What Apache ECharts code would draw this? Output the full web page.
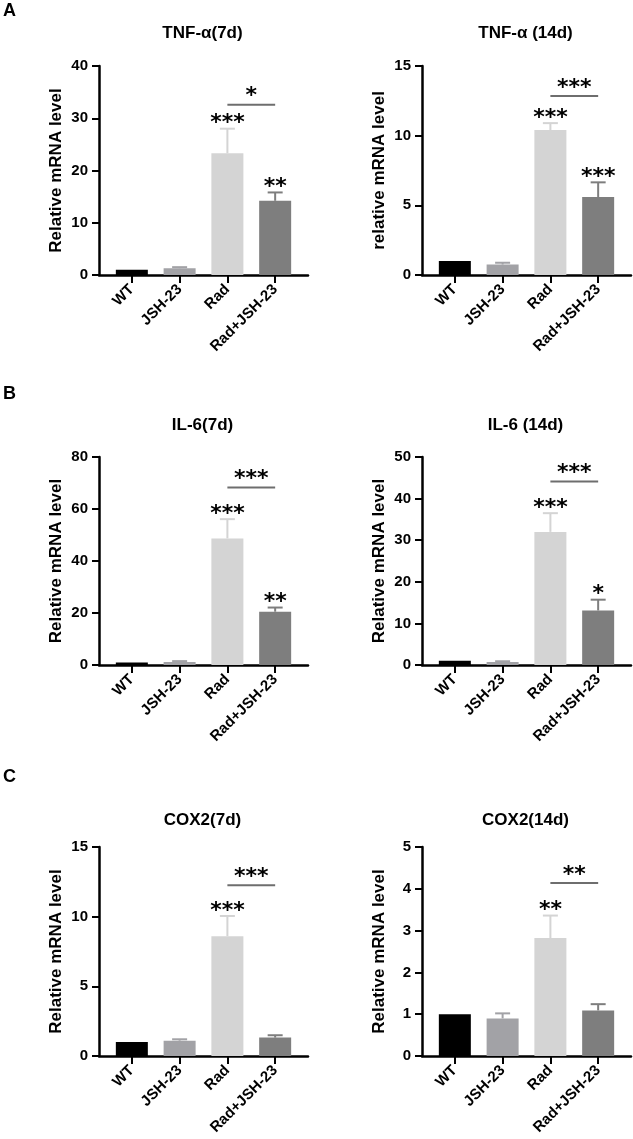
<!DOCTYPE html>
<html>
<head>
<meta charset="utf-8">
<script src="https://cdn.jsdelivr.net/npm/echarts@6.0.0/dist/echarts.min.js"></script>
<style>
html,body{margin:0;padding:0;background:#fff;}
#chart{width:633px;height:1139px;}
</style>
</head>
<body>
<div id="chart"></div>
<script>
// ---------- data ----------
const categories = ['WT', 'JSH-23', 'Rad', 'Rad+JSH-23'];
const panelTitles = ['TNF-α(7d)', 'TNF-α (14d)', 'IL-6(7d)', 'IL-6 (14d)', 'COX2(7d)', 'COX2(14d)'];
const yAxisNames = ['Relative mRNA level', 'relative mRNA level', 'Relative mRNA level', 'Relative mRNA level', 'Relative mRNA level', 'Relative mRNA level'];
const yMax = [40, 15, 80, 50, 15, 5];
const yStep = [10, 5, 20, 10, 5, 1];
const panelLetters = ['A', 'B', 'C'];

const tnf7Mean = [1.0, 1.3, 23.3, 14.2];
const tnf7Sd = [0, 0.2, 4.7, 1.6];
const tnf7Stars = ['', '', '***', '**'];

const tnf14Mean = [1.0, 0.75, 10.4, 5.6];
const tnf14Sd = [0, 0.13, 0.5, 1.05];
const tnf14Stars = ['', '', '***', '***'];

const il7Mean = [1.0, 1.2, 48.7, 20.5];
const il7Sd = [0, 0.3, 7.4, 1.6];
const il7Stars = ['', '', '***', '**'];

const il14Mean = [1.0, 0.7, 32.0, 13.1];
const il14Sd = [0, 0.2, 4.5, 2.6];
const il14Stars = ['', '', '***', '*'];

const cox7Mean = [1.0, 1.1, 8.6, 1.32];
const cox7Sd = [0, 0.1, 1.45, 0.17];
const cox7Stars = ['', '', '***', ''];

const cox14Mean = [1.0, 0.9, 2.82, 1.09];
const cox14Sd = [0, 0.12, 0.54, 0.15];
const cox14Stars = ['', '', '**', ''];

// comparison Rad vs Rad+JSH-23
const bracketLevel = [32.6, 12.85, 68.3, 44.1, 12.26, 4.14];
const bracketStars = ['*', '***', '***', '***', '***', '**'];

// ---------- styling / layout ----------
const means = [tnf7Mean, tnf14Mean, il7Mean, il14Mean, cox7Mean, cox14Mean];
const sds = [tnf7Sd, tnf14Sd, il7Sd, il14Sd, cox7Sd, cox14Sd];
const stars = [tnf7Stars, tnf14Stars, il7Stars, il14Stars, cox7Stars, cox14Stars];

const barColors = ['#000000', '#a2a2a6', '#d4d4d4', '#7e7e7e'];
const FONT = '"Liberation Sans", Arial, sans-serif';
const STAR_FONT = 'bold 22px "DejaVu Sans"';
const colLeft = [99, 422];
const rowTop = [66, 457, 847];
const rowH = [209, 208, 209];
const gridW = 209;

const grids = [], xAxes = [], yAxes = [], series = [], graphics = [];

for (let k = 0; k < 6; k++) {
  const col = k % 2, row = Math.floor(k / 2);
  grids.push({ left: colLeft[col], top: rowTop[row], width: gridW, height: rowH[row] });
  xAxes.push({
    type: 'value', gridIndex: k, min: -0.6875, max: 3.6875,
    splitLine: { show: false },
    axisLine: { show: true, onZero: false, lineStyle: { color: '#000', width: 2.5 } },
    axisTick: { show: true, customValues: [0, 1, 2, 3], length: 8, lineStyle: { color: '#000', width: 2 } },
    axisLabel: {
      customValues: [0, 1, 2, 3], rotate: 45, margin: 12,
      formatter: v => categories[Math.round(v)],
      fontFamily: FONT, fontWeight: 'bold', fontSize: 15, color: '#000'
    }
  });
  yAxes.push({
    type: 'value', gridIndex: k, min: 0, max: yMax[k], interval: yStep[k],
    splitLine: { show: false },
    axisLine: { show: true, onZero: false, lineStyle: { color: '#000', width: 2.5 } },
    axisTick: { show: true, length: 7, lineStyle: { color: '#000', width: 2 } },
    axisLabel: { fontFamily: FONT, fontWeight: 'bold', fontSize: 15, color: '#000', margin: 11 },
    name: yAxisNames[k], nameLocation: 'middle', nameGap: 34,
    nameTextStyle: { fontFamily: FONT, fontWeight: 'bold', fontSize: 17, color: '#000' }
  });

  const m = means[k], s = sds[k], st = stars[k];
  series.push({
    type: 'bar', xAxisIndex: k, yAxisIndex: k, barWidth: 32,
    data: m.map((v, i) => ({ value: [i, v], itemStyle: { color: barColors[i] } })),
    silent: true, animation: false
  });
  // error bars + per-group stars
  series.push({
    type: 'custom', xAxisIndex: k, yAxisIndex: k, clip: false, silent: true, animation: false,
    data: m.map((v, i) => [i, v, s[i]]),
    renderItem: (params, api) => {
      const i = api.value(0), mv = api.value(1), sv = api.value(2);
      const children = [];
      const base = api.coord([i, mv]);
      const top = api.coord([i, mv + sv]);
      if (sv > 0) {
        const c = barColors[i];
        children.push({ type: 'line', shape: { x1: base[0], y1: base[1], x2: top[0], y2: top[1] }, style: { stroke: c, lineWidth: 2 } });
        children.push({ type: 'line', shape: { x1: top[0] - 7.5, y1: top[1], x2: top[0] + 7.5, y2: top[1] }, style: { stroke: c, lineWidth: 2 } });
      }
      const txt = st[params.dataIndex];
      if (txt) {
        children.push({ type: 'text', x: top[0], y: top[1] - 5, style: { text: txt, font: STAR_FONT, fill: '#000', align: 'center', verticalAlign: 'middle' } });
      }
      return { type: 'group', children };
    }
  });
  // comparison bracket Rad vs Rad+JSH-23
  series.push({
    type: 'custom', xAxisIndex: k, yAxisIndex: k, clip: false, silent: true, animation: false,
    data: [[2, 3, bracketLevel[k]]],
    renderItem: (params, api) => {
      const a = api.coord([api.value(0), api.value(2)]);
      const b = api.coord([api.value(1), api.value(2)]);
      return { type: 'group', children: [
        { type: 'line', shape: { x1: a[0], y1: a[1], x2: b[0], y2: b[1] }, style: { stroke: '#6e6e6e', lineWidth: 2 } },
        { type: 'text', x: (a[0] + b[0]) / 2, y: a[1] - 8, style: { text: bracketStars[k], font: STAR_FONT, fill: '#000', align: 'center', verticalAlign: 'middle' } }
      ] };
    }
  });

  graphics.push({
    type: 'text', x: colLeft[col] + gridW / 2 - 1, y: [33, 425, 820][row],
    style: { text: panelTitles[k], font: 'bold 17px ' + FONT, fill: '#000', align: 'center', verticalAlign: 'middle' }
  });
}
panelLetters.forEach((L, r) => {
  graphics.push({ type: 'text', x: 3, y: [11, 394, 777][r], style: { text: L, font: 'bold 18px ' + FONT, fill: '#000', align: 'left', verticalAlign: 'middle' } });
});

const chart = echarts.init(document.getElementById('chart'), null, { renderer: 'canvas' });
chart.setOption({
  backgroundColor: '#fff',
  animation: false,
  grid: grids, xAxis: xAxes, yAxis: yAxes, series, graphic: graphics
});
</script>
</body>
</html>
